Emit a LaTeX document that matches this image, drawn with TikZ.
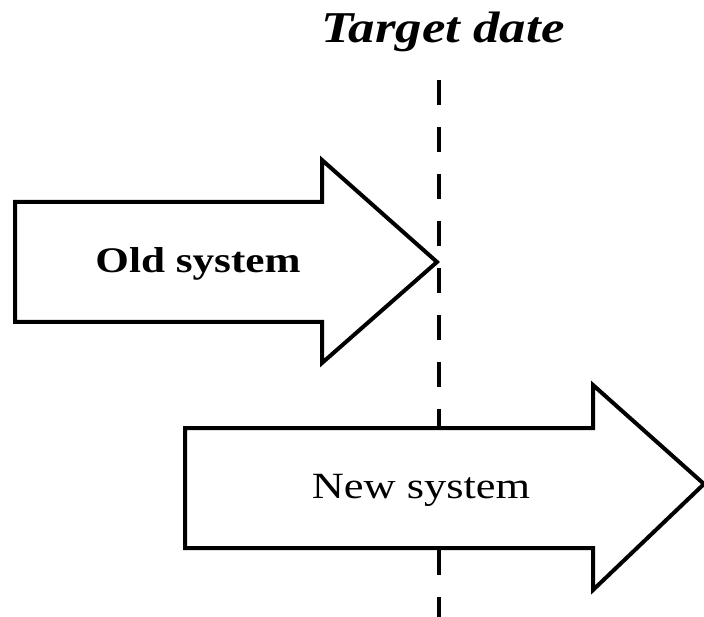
\documentclass[tikz,border=0pt]{standalone}
\usepackage{fontspec}
\setmainfont{Liberation Serif}
\newfontfamily\wideserif[FakeStretch=1.2]{Liberation Serif}
\tikzset{
  sysarrow/.style={draw=black, fill=white, line width=4pt, line join=miter},
  syslabel/.style={anchor=base, inner sep=0pt, font=\wideserif\fontsize{37}{40}\selectfont},
  datemark/.style={line width=4.5pt, dash pattern=on 25pt off 22pt}
}
\begin{document}
\begin{tikzpicture}[x=1pt,y=-1pt]
  \useasboundingbox (0,0) rectangle (704,617);
  % title and target line
  \node[anchor=base, inner sep=0pt, font=\wideserif\bfseries\itshape\fontsize{44}{48}\selectfont] (target) at (443,43) {Target date};
  \coordinate (top) at (439,80);
  \coordinate (bottom) at (439,620);
  \draw[datemark] (top) -- (bottom);
  % old system
  \draw[sysarrow] (15,202) -- (322,202) -- (322,160) -- (437,262)
    -- (322,363) -- (322,322) -- (15,322) -- cycle;
  \node[syslabel, font=\wideserif\bfseries\fontsize{36}{40}\selectfont] (old) at (198,273) {Old system};
  % new system
  \draw[sysarrow] (185,428) -- (593,428) -- (593,385) -- (704,484)
    -- (593,590) -- (593,548) -- (185,548) -- cycle;
  \node[syslabel] (new) at (421,498) {New system};
\end{tikzpicture}
\end{document}
